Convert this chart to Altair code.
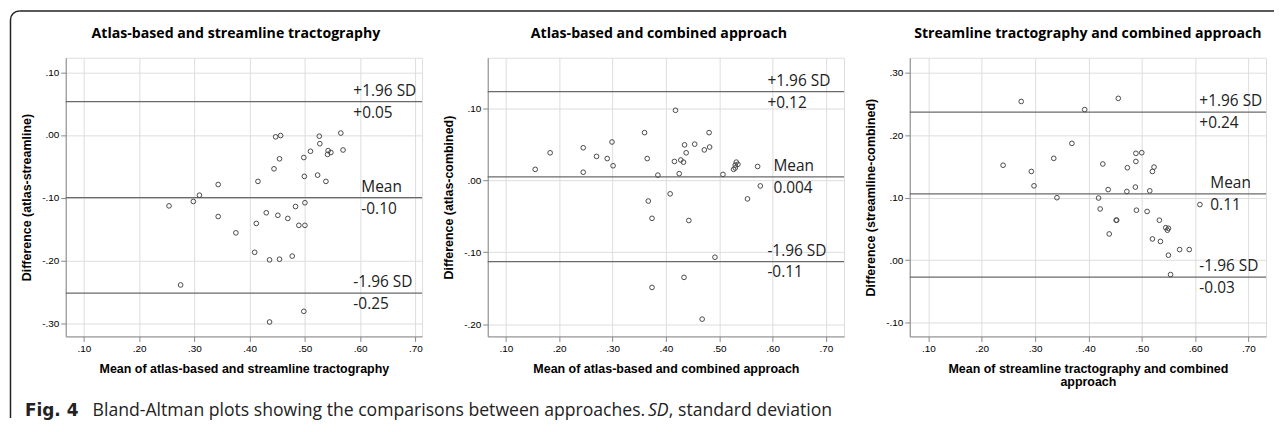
import math
import altair as alt
import pandas as pd

# ---------------- data ----------------
XTICKS = [0.1, 0.2, 0.3, 0.4, 0.5, 0.6, 0.7]

p1_title = "Atlas-based and streamline tractography"
p1_xtitle = "Mean of atlas-based and streamline tractography"
p1_ytitle = "Difference (atlas-streamline)"
p1_mean = [0.447, 0.456, 0.526, 0.527, 0.565, 0.510, 0.542, 0.541, 0.547, 0.569,
           0.454, 0.498, 0.444, 0.499, 0.523, 0.538, 0.415, 0.343, 0.309, 0.254,
           0.298, 0.343, 0.483, 0.500, 0.430, 0.451, 0.469, 0.412, 0.489, 0.500,
           0.375, 0.409, 0.436, 0.454, 0.477, 0.275, 0.498, 0.436]
p1_diff = [-0.003, -0.001, -0.002, -0.014, 0.003, -0.026, -0.025, -0.031, -0.028, -0.024,
           -0.038, -0.036, -0.054, -0.066, -0.064, -0.074, -0.074, -0.079, -0.096, -0.113,
           -0.106, -0.130, -0.114, -0.108, -0.124, -0.128, -0.133, -0.141, -0.144, -0.144,
           -0.156, -0.187, -0.199, -0.198, -0.193, -0.239, -0.281, -0.298]
p1_lines = [0.053, -0.100, -0.252]
p1_names = ["+1.96 SD", "Mean", "-1.96 SD"]
p1_vals = ["+0.05", "-0.10", "-0.25"]
p1_yticks = [-0.3, -0.2, -0.1, 0.0, 0.1]

p2_title = "Atlas-based and combined approach"
p2_xtitle = "Mean of atlas-based and combined approach"
p2_ytitle = "Difference (atlas-combined)"
p2_mean = [0.155, 0.183, 0.245, 0.245, 0.270, 0.290, 0.299, 0.301, 0.360, 0.365,
           0.418, 0.385, 0.416, 0.428, 0.433, 0.435, 0.438, 0.454, 0.425, 0.472,
           0.482, 0.481, 0.507, 0.527, 0.530, 0.532, 0.535, 0.530, 0.572, 0.577,
           0.408, 0.367, 0.553, 0.374, 0.443, 0.492, 0.434, 0.374, 0.468]
p2_diff = [0.015, 0.038, 0.045, 0.011, 0.033, 0.030, 0.053, 0.020, 0.066, 0.030,
           0.097, 0.007, 0.026, 0.028, 0.025, 0.049, 0.038, 0.050, 0.009, 0.042,
           0.046, 0.066, 0.008, 0.015, 0.017, 0.025, 0.022, 0.021, 0.019, -0.008,
           -0.019, -0.029, -0.026, -0.053, -0.056, -0.107, -0.135, -0.149, -0.193]
p2_lines = [0.123, 0.0046, -0.113]
p2_names = ["+1.96 SD", "Mean", "-1.96 SD"]
p2_vals = ["+0.12", "0.004", "-0.11"]
p2_yticks = [-0.2, -0.1, 0.0, 0.1]

p3_title = "Streamline tractography and combined approach"
p3_xtitle = ["Mean of streamline tractography and combined", "approach"]
p3_ytitle = "Difference (streamline-combined)"
p3_mean = [0.274, 0.456, 0.393, 0.369, 0.335, 0.240, 0.293, 0.298, 0.427, 0.473,
           0.489, 0.489, 0.500, 0.523, 0.520, 0.437, 0.472, 0.488, 0.515, 0.341,
           0.419, 0.609, 0.422, 0.490, 0.510, 0.452, 0.453, 0.533, 0.545, 0.550,
           0.548, 0.439, 0.520, 0.535, 0.571, 0.589, 0.550, 0.554]
p3_diff = [0.254, 0.259, 0.241, 0.187, 0.163, 0.152, 0.142, 0.119, 0.154, 0.148,
           0.158, 0.171, 0.172, 0.149, 0.142, 0.113, 0.110, 0.117, 0.111, 0.100,
           0.0995, 0.089, 0.082, 0.080, 0.078, 0.064, 0.064, 0.064, 0.052, 0.051,
           0.048, 0.042, 0.034, 0.030, 0.017, 0.017, 0.008, -0.023]
p3_lines = [0.237, 0.106, -0.027]
p3_names = ["+1.96 SD", "Mean", "-1.96 SD"]
p3_vals = ["+0.24", "0.11", "-0.03"]
p3_yticks = [-0.1, 0.0, 0.1, 0.2, 0.3]

caption_bold = "Fig. 4"
caption_main = "Bland-Altman plots showing the comparisons between approaches."
caption_italic = "SD"
caption_end = ", standard deviation"

# ---------------- style ----------------
W, H = 358, 280
ANN_FONT = "Open Sans"
ANN_SIZE = 15.5
INK = "#222222"
LABEL_EXPR = ("replace(replace(format(datum.value, '.2f'), '0.', '.'), '\u2212', '-')")
AX_TITLE = dict(titleFont="Liberation Sans", titleFontWeight="bold", titleFontSize=12.5,
                titleColor="black", titleLineHeight=13)
one = pd.DataFrame({"k": [0]})


def panel(title, xtitle, ytitle, xs, ys, lines, names, vals, xdom, ydom, yticks,
          sd_x, mean_x, title_dx):
    df = pd.DataFrame({"m": xs, "d": ys})
    ldf = pd.DataFrame({"d": lines, "name": names, "val": vals,
                        "kind": ["sd", "mean", "sd"]})
    x = alt.X("m:Q", scale=alt.Scale(domain=xdom, nice=False, zero=False),
              axis=alt.Axis(values=XTICKS, title=xtitle, labelExpr=LABEL_EXPR,
                            titlePadding=9, **AX_TITLE))
    y = alt.Y("d:Q", scale=alt.Scale(domain=ydom, nice=False, zero=False),
              axis=alt.Axis(values=yticks, title=ytitle, labelExpr=LABEL_EXPR,
                            titlePadding=8, **AX_TITLE))
    pts = alt.Chart(df).mark_point(shape="circle", filled=False, size=22,
                                   color="#4a4a4a", strokeWidth=1, opacity=1).encode(x=x, y=y)
    rules = alt.Chart(ldf).mark_rule(color="#6a6a6a", strokeWidth=1.2).encode(y=alt.Y("d:Q"))
    layers = [rules, pts]
    for kind, xpos in (("sd", sd_x), ("mean", mean_x)):
        base = alt.Chart(ldf).transform_filter(alt.datum.kind == kind)
        layers.append(base.mark_text(align="left", baseline="middle", dy=-11,
                                     font=ANN_FONT, fontSize=ANN_SIZE, color=INK)
                      .encode(y=alt.Y("d:Q"), x=alt.value(xpos), text="name:N"))
        layers.append(base.mark_text(align="left", baseline="middle", dy=11,
                                     font=ANN_FONT, fontSize=ANN_SIZE, color=INK)
                      .encode(y=alt.Y("d:Q"), x=alt.value(xpos), text="val:N"))
    layers.append(alt.Chart(one).mark_text(align="center", baseline="middle",
                                           font="Open Sans", fontSize=14.2,
                                           fontWeight="bold", color="black")
                  .encode(x=alt.value(W / 2 + title_dx), y=alt.value(-24),
                          text=alt.value(title)))
    return layers


l1 = panel(p1_title, p1_xtitle, p1_ytitle, p1_mean, p1_diff, p1_lines, p1_names,
           p1_vals, [0.067, 0.712], [-0.321, 0.123], p1_yticks, 289, 297, -8)
l2 = panel(p2_title, p2_xtitle, p2_ytitle, p2_mean, p2_diff, p2_lines, p2_names,
           p2_vals, [0.066, 0.734], [-0.217, 0.170], p2_yticks, 281, 287, -7)
l3 = panel(p3_title, p3_xtitle, p3_ytitle, p3_mean, p3_diff, p3_lines, p3_names,
           p3_vals, [0.065, 0.733], [-0.122, 0.324], p3_yticks, 291, 302, 0)

# frame and caption (decoration, in panel-1 pixel space)
FL, FT, FR, FB, R = -55.5, -47, 1214, 362, 9
frame_col = "#222222"
deco = [
    alt.Chart(one).mark_rule(color=frame_col, strokeWidth=1.5).encode(
        x=alt.value(FL + R), x2=alt.value(FR), y=alt.value(FT)),
    alt.Chart(one).mark_rule(color=frame_col, strokeWidth=1.5).encode(
        x=alt.value(FL), y=alt.value(FT + R), y2=alt.value(FB)),
    alt.Chart(one).mark_arc(radius=R + 0.75, radius2=R - 0.75, theta=1.5 * math.pi,
                            theta2=2 * math.pi, color=frame_col).encode(
        x=alt.value(FL + R), y=alt.value(FT + R)),
]
CAP_Y = 354.5
cap_style = dict(align="left", baseline="middle", fontSize=17.7, color=INK)
deco += [
    alt.Chart(one).mark_text(fontWeight="bold", font="DejaVu Sans", **{**cap_style, "fontSize": 17}).encode(
        x=alt.value(-41), y=alt.value(CAP_Y), text=alt.value(caption_bold)),
    alt.Chart(one).mark_text(font="Open Sans", **cap_style).encode(
        x=alt.value(27), y=alt.value(CAP_Y), text=alt.value(caption_main)),
    alt.Chart(one).mark_text(fontStyle="italic", font="Open Sans", **cap_style).encode(
        x=alt.value(585), y=alt.value(CAP_Y), text=alt.value(caption_italic)),
    alt.Chart(one).mark_text(font="Open Sans", **cap_style).encode(
        x=alt.value(606), y=alt.value(CAP_Y), text=alt.value(caption_end)),
]

c1 = alt.layer(*l1, *deco).properties(width=W, height=H)
c2 = alt.layer(*l2).properties(width=W, height=H)
c3 = alt.layer(*l3).properties(width=W, height=H)

chart = alt.hconcat(c1, c2, c3, spacing=66, bounds="flush").properties(
    padding={"left": 1, "top": 0, "right": 0, "bottom": 0}
).configure_view(stroke="#7f7f7f", strokeWidth=1).configure_axis(
    labelFont="Liberation Sans", labelFontSize=8, labelColor="#333333",
    tickColor="#555555", tickSize=4, labelPadding=2, domain=False, grid=False,
).configure(background="white")

chart.save("out.html", embed_options={"renderer": "svg", "actions": False})
